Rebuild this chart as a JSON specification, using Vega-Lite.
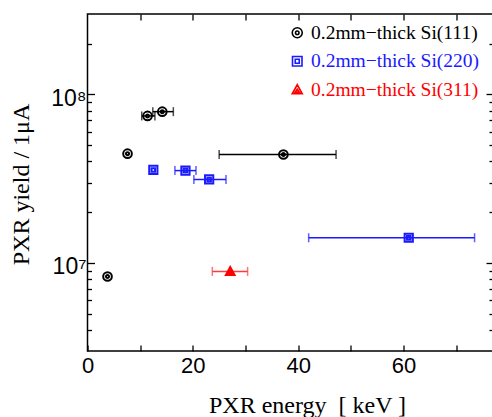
{
  "$schema": "https://vega.github.io/schema/vega-lite/v6.json",
  "autosize": "none",
  "padding": {"left": 87.5, "top": 14, "right": 0, "bottom": 66},
  "width": 405.5,
  "height": 337,
  "data": {"values": [
    {"series": "0.2mm−thick Si(111)", "energy": 3.8, "yield": 8.3e6, "elo": null, "ehi": null},
    {"series": "0.2mm−thick Si(111)", "energy": 7.6, "yield": 4.45e7, "elo": null, "ehi": null},
    {"series": "0.2mm−thick Si(111)", "energy": 11.4, "yield": 7.45e7, "elo": 10.3, "ehi": 12.8},
    {"series": "0.2mm−thick Si(111)", "energy": 14.2, "yield": 7.9e7, "elo": 12.4, "ehi": 16.3},
    {"series": "0.2mm−thick Si(111)", "energy": 37.2, "yield": 4.4e7, "elo": 25.0, "ehi": 47.2},
    {"series": "0.2mm−thick Si(220)", "energy": 12.5, "yield": 3.56e7, "elo": null, "ehi": null},
    {"series": "0.2mm−thick Si(220)", "energy": 18.6, "yield": 3.53e7, "elo": 16.6, "ehi": 20.6},
    {"series": "0.2mm−thick Si(220)", "energy": 23.1, "yield": 3.13e7, "elo": 20.2, "ehi": 26.3},
    {"series": "0.2mm−thick Si(220)", "energy": 61.0, "yield": 1.41e7, "elo": 42.0, "ehi": 73.5},
    {"series": "0.2mm−thick Si(311)", "energy": 27.1, "yield": 8.9e6, "elo": 23.7, "ehi": 30.4}
  ]},
  "resolve": {"axis": {"x": "independent", "y": "independent"}},
  "layer": [
    {
      "transform": [{"filter": "datum.elo != null"}],
      "mark": {"type": "rule", "strokeWidth": 1.5},
      "encoding": {
        "x": {"field": "elo", "type": "quantitative",
              "scale": {"domain": [0, 77], "nice": false, "zero": false},
              "axis": {"orient": "bottom", "values": [0, 10, 20, 30, 40, 50, 60, 70], "tickSize": -6,
                       "labelExpr": "datum.value % 20 == 0 ? datum.label : ''", "labelFontSize": 22, "labelPadding": 10,
                       "labelFlush": false,
                       "title": "PXR energy \u00a0[ keV ]", "titleFontSize": 24, "titleX": 219.5, "titleY": 54,
                       "titleBaseline": "middle", "titleAlign": "center"}},
        "x2": {"field": "ehi"},
        "y": {"field": "yield", "type": "quantitative",
              "scale": {"type": "log", "domain": [3e6, 3e8], "nice": false},
              "axis": {"orient": "left", "values": [1e7, 1e8], "tickSize": -7,
                       "labelExpr": "datum.value >= 5e7 ? '10⁸' : '10⁷'", "labelFontSize": 23, "labelPadding": 8.5,
                       "labelOffset": 4, "labelBaseline": "middle", "labelFlush": false,
                       "title": "PXR yield / 1μA", "titleFontSize": 24, "titleX": -66, "titleY": 170,
                       "titleBaseline": "middle", "titleAlign": "center", "titleAngle": -90}},
        "stroke": {"field": "series", "type": "nominal",
                  "scale": {"range": ["#000000", "#1a1aff", "#ff3a3a"]},
                  "legend": null}
      }
    },
    {
      "transform": [{"filter": "datum.elo != null"}],
      "mark": {"type": "tick", "orient": "vertical", "size": 9, "thickness": 1.5},
      "encoding": {
        "x": {"field": "elo", "type": "quantitative",
              "axis": {"orient": "top", "values": [10, 20, 30, 40, 50, 60, 70], "tickSize": -6, "labels": false, "title": null}},
        "y": {"field": "yield", "type": "quantitative",
              "axis": {"orient": "left", "values": [4e6, 5e6, 6e6, 7e6, 8e6, 9e6, 2e7, 3e7, 4e7, 5e7, 6e7, 7e7, 8e7, 9e7, 2e8],
                       "tickSize": -4, "labels": false, "title": null}},
        "fill": {"field": "series", "type": "nominal",
                 "scale": {"range": ["#000000", "#1a1aff", "#ff3a3a"]},
                 "legend": null}
      }
    },
    {
      "transform": [{"filter": "datum.elo != null"}],
      "mark": {"type": "tick", "orient": "vertical", "size": 9, "thickness": 1.5},
      "encoding": {
        "x": {"field": "ehi", "type": "quantitative", "axis": null},
        "y": {"field": "yield", "type": "quantitative",
              "axis": {"orient": "right", "values": [1e7, 1e8], "tickSize": -7, "labels": false, "title": null}},
        "fill": {"field": "series", "type": "nominal", "legend": null}
      }
    },
    {
      "mark": {"type": "point", "filled": false, "strokeWidth": 2, "size": 75, "opacity": 1},
      "encoding": {
        "x": {"field": "energy", "type": "quantitative", "axis": null},
        "y": {"field": "yield", "type": "quantitative",
              "axis": {"orient": "right", "values": [4e6, 5e6, 6e6, 7e6, 8e6, 9e6, 2e7, 3e7, 4e7, 5e7, 6e7, 7e7, 8e7, 9e7, 2e8],
                       "tickSize": -4, "labels": false, "title": null}},
        "color": {"field": "series", "type": "nominal",
                  "scale": {"domain": ["0.2mm−thick Si(111)", "0.2mm−thick Si(220)", "0.2mm−thick Si(311)"],
                            "range": ["#000000", "#1a1aff", "#ff0000"]}},
        "shape": {"field": "series", "type": "nominal",
                  "scale": {"domain": ["0.2mm−thick Si(111)", "0.2mm−thick Si(220)", "0.2mm−thick Si(311)"],
                            "range": [
                              "M -1 0 A 1 1 0 1 1 1 0 A 1 1 0 1 1 -1 0 Z M -0.35 0 A 0.35 0.35 0 1 1 0.35 0 A 0.35 0.35 0 1 1 -0.35 0 Z",
                              "M -0.95 -0.95 H 0.95 V 0.95 H -0.95 Z M -0.4 -0.4 H 0.4 V 0.4 H -0.4 Z",
                              "M 0 -1 L 1 0.8 L -1 0.8 Z M 0 -0.1 L 0.4 0.5 L -0.4 0.5 Z"
                            ]}}
      }
    }
  ],
  "config": {
    "background": "white",
    "view": {"stroke": "black", "strokeWidth": 1.5},
    "axis": {"domain": false, "grid": false, "tickColor": "black", "tickWidth": 1.3,
             "labelColor": "black", "labelFont": "Liberation Sans", "titleFont": "Liberation Serif",
             "titleFontWeight": "normal", "titleColor": "black", "titlePadding": 0},
    "legend": {"orient": "none", "legendX": 200, "legendY": 9, "title": null,
               "labelFont": "Liberation Serif", "labelFontSize": 19.5, "symbolSize": 100,
               "symbolStrokeWidth": 1.6, "rowPadding": 7.5, "labelOffset": 4, "labelLimit": 300,
               "labelColor": {"expr": "indexof(datum.label, '220') >= 0 ? '#1a1aff' : indexof(datum.label, '311') >= 0 ? '#ff0000' : '#000000'"}}
  }
}
